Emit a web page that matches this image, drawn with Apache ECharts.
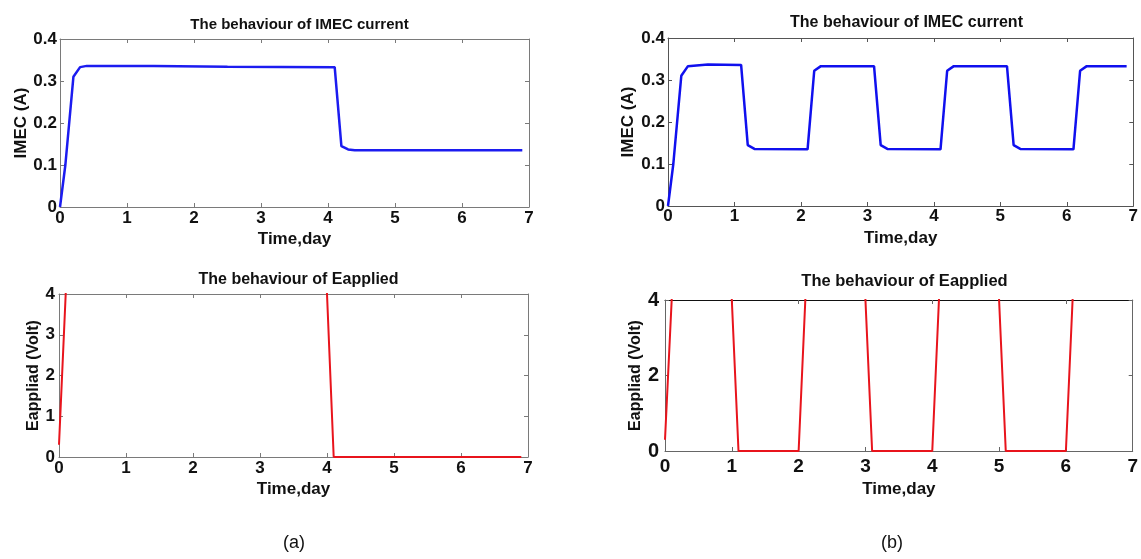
<!DOCTYPE html>
<html>
<head>
<meta charset="utf-8">
<script src="https://cdn.jsdelivr.net/npm/echarts@6/dist/echarts.min.js"></script>
<style>
  html, body { margin: 0; padding: 0; background: #fff; }
  #main { width: 1141px; height: 559px; }
</style>
</head>
<body>
<div id="main"></div>
<script>
// data: [time (day), value]
const imecA = [[0, 0], [0.08, 0.1], [0.2, 0.31], [0.3, 0.333], [0.4, 0.336], [1.4, 0.336], [2.5, 0.334], [4.1, 0.333],
  [4.2, 0.145], [4.3, 0.137], [4.4, 0.135], [6.9, 0.135]];
const eappA = [[0, 0.3], [0.1, 4], [0.2, 8], [3.9, 8], [4.0, 4], [4.1, 0], [6.9, 0]];
const imecB = [[0, 0], [0.08, 0.1], [0.2, 0.31], [0.3, 0.333], [0.6, 0.337], [1.1, 0.336],
  [1.2, 0.145], [1.3, 0.136], [2.1, 0.135], [2.2, 0.322], [2.3, 0.333], [3.1, 0.333],
  [3.2, 0.145], [3.3, 0.136], [4.1, 0.135], [4.2, 0.322], [4.3, 0.333], [5.1, 0.333],
  [5.2, 0.145], [5.3, 0.136], [6.1, 0.135], [6.2, 0.322], [6.3, 0.333], [6.9, 0.333]];
const eappB = [[0, 0.3], [0.1, 4], [0.2, 8], [0.9, 8], [1.0, 4], [1.1, 0], [2.0, 0], [2.1, 4], [2.2, 8],
  [2.9, 8], [3.0, 4], [3.1, 0], [4.0, 0], [4.1, 4], [4.2, 8], [4.9, 8], [5.0, 4], [5.1, 0],
  [6.0, 0], [6.1, 4], [6.2, 8], [6.9, 8]];
const xTicks = [0, 1, 2, 3, 4, 5, 6, 7];

const FONT = "'Liberation Sans', Arial, sans-serif";
const myChart = echarts.init(document.getElementById('main'));

// one panel = grid + bottom/top x axes + left/right y axes
const grids = [];
const xAxes = [];
const yAxes = [];
const titles = [];
const series = [];

function addPanel(p) {
  const gi = grids.length;
  grids.push({ left: p.left, top: p.top, width: p.width, height: p.height, containLabel: false });
  const tick = { show: true, inside: true, length: 4, lineStyle: { color: p.axisColor } };
  const line = c => ({ show: true, onZero: false, lineStyle: { color: c, width: 1 } });
  xAxes.push({
    type: 'value', gridIndex: gi, min: 0, max: 7, interval: 1, position: 'bottom',
    name: 'Time,day', nameLocation: 'middle', nameGap: p.xNameGap,
    nameTextStyle: { fontFamily: FONT, fontWeight: 'bold', fontSize: 17, color: '#111' },
    axisLine: line(p.axisColor), axisTick: tick, splitLine: { show: false },
    axisLabel: { fontFamily: FONT, fontWeight: 'bold', fontSize: p.xTickSize, color: '#111', margin: p.xLabelMargin,
      formatter: v => (xTicks.includes(v) ? String(v) : '') },
  });
  xAxes.push({
    type: 'value', gridIndex: gi, min: 0, max: 7, interval: 1, position: 'top',
    axisLine: line(p.topColor || p.axisColor), axisTick: tick,
    axisLabel: { show: false }, splitLine: { show: false },
  });
  yAxes.push({
    type: 'value', gridIndex: gi, min: 0, max: p.yMax, interval: p.yInterval, position: 'left',
    name: p.yName, nameLocation: 'middle', nameGap: p.yNameGap,
    nameTextStyle: { fontFamily: FONT, fontWeight: 'bold', fontSize: p.yNameSize, color: '#111' },
    axisLine: line(p.axisColor), axisTick: tick, splitLine: { show: false },
    axisLabel: { fontFamily: FONT, fontWeight: 'bold', fontSize: p.yTickSize, color: '#111', margin: p.yLabelMargin },
  });
  yAxes.push({
    type: 'value', gridIndex: gi, min: 0, max: p.yMax, interval: p.yInterval, position: 'right',
    axisLine: line(p.axisColor), axisTick: tick,
    axisLabel: { show: false }, splitLine: { show: false },
  });
  titles.push({
    text: p.title, left: p.left + p.width / 2, top: p.titleTop, textAlign: 'center',
    textStyle: { fontFamily: FONT, fontWeight: 'bold', fontSize: p.titleSize, color: '#111' },
  });
  series.push({
    type: 'line', xAxisIndex: gi * 2, yAxisIndex: gi * 2, data: p.data,
    showSymbol: false, clip: true, animation: false,
    lineStyle: { color: p.color, width: p.lineWidth },
  });
}

addPanel({ left: 60, top: 39, width: 469, height: 168, yMax: 0.4, yInterval: 0.1,
  title: 'The behaviour of IMEC current', titleTop: 12, titleSize: 15, yName: 'IMEC (A)', yNameGap: 30, yNameSize: 17,
  xNameGap: 24, xLabelMargin: 3, yLabelMargin: 3, xTickSize: 17, yTickSize: 17, axisColor: '#7a7a7a',
  data: imecA, color: '#1c1cf0', lineWidth: 2.5 });
addPanel({ left: 59, top: 294, width: 469, height: 163, yMax: 4, yInterval: 1,
  title: 'The behaviour of Eapplied', titleTop: 267, titleSize: 16, yName: 'Eappliad (Volt)', yNameGap: 17, yNameSize: 16,
  xNameGap: 24, xLabelMargin: 3, yLabelMargin: 4, xTickSize: 17, yTickSize: 17, axisColor: '#7a7a7a',
  data: eappA, color: '#e8141c', lineWidth: 2 });
addPanel({ left: 668, top: 38, width: 467, height: 168, yMax: 0.4, yInterval: 0.1,
  title: 'The behaviour of IMEC current', titleTop: 10, titleSize: 16, yName: 'IMEC (A)', yNameGap: 31, yNameSize: 17,
  xNameGap: 24, xLabelMargin: 2, yLabelMargin: 3, xTickSize: 17, yTickSize: 17, axisColor: '#555',
  data: imecB, color: '#1010ee', lineWidth: 2.5 });
addPanel({ left: 665, top: 300, width: 469, height: 151, yMax: 4, yInterval: 2,
  title: 'The behaviour of Eapplied', titleTop: 268, titleSize: 16.5, yName: 'Eappliad (Volt)', yNameGap: 21, yNameSize: 16,
  xNameGap: 30, xLabelMargin: 6, yLabelMargin: 6, xTickSize: 19, yTickSize: 20, axisColor: '#666', topColor: '#111',
  data: eappB, color: '#e8141c', lineWidth: 2 });

myChart.setOption({
  backgroundColor: '#fff',
  animation: false,
  title: titles,
  grid: grids,
  xAxis: xAxes,
  yAxis: yAxes,
  series: series,
  graphic: [
    { type: 'text', left: 283, top: 534, style: { text: '(a)', font: '18px ' + FONT, fill: '#111' } },
    { type: 'text', left: 881, top: 534, style: { text: '(b)', font: '18px ' + FONT, fill: '#111' } },
  ],
});
</script>
</body>
</html>
